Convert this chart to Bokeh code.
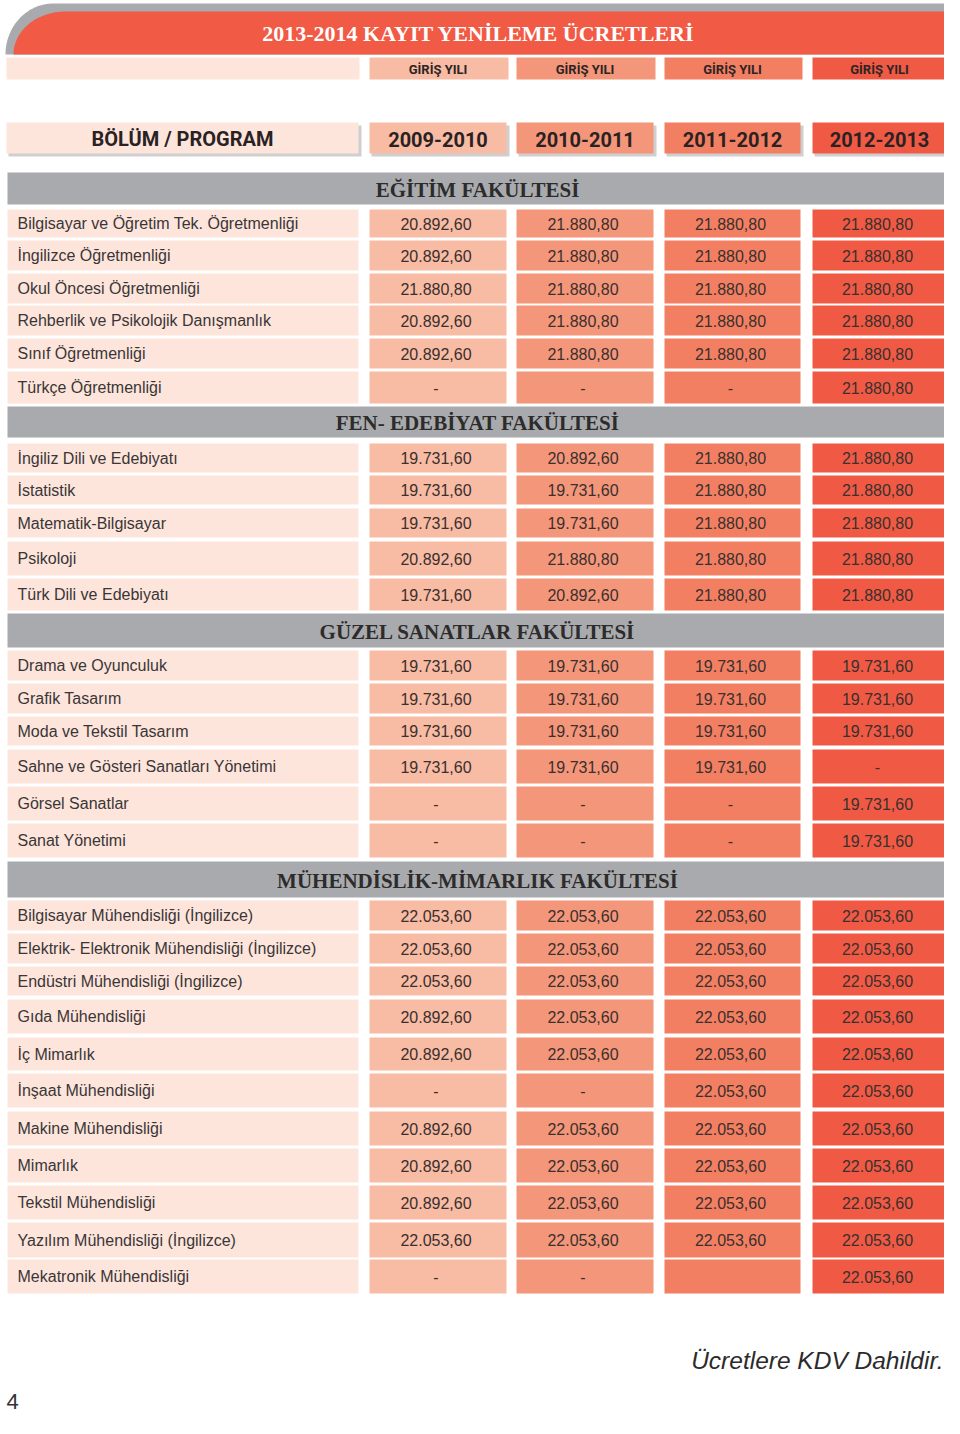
import numpy as np
from bokeh.plotting import figure
from bokeh.models import Range1d, ColumnDataSource
from bokeh.core.properties import value
from bokeh.embed import file_html
from bokeh.resources import INLINE

# ---------------- data ----------------
title_text = "2013-2014 KAYIT YENİLEME ÜCRETLERİ"
entry_label = "GİRİŞ YILI"
program_header = "BÖLÜM / PROGRAM"
years = ["2009-2010", "2010-2011", "2011-2012", "2012-2013"]
faculties = ["EĞİTİM FAKÜLTESİ", "FEN- EDEBİYAT FAKÜLTESİ",
             "GÜZEL SANATLAR FAKÜLTESİ", "MÜHENDİSLİK-MİMARLIK FAKÜLTESİ"]
programs = [
    "Bilgisayar ve Öğretim Tek. Öğretmenliği", "İngilizce Öğretmenliği",
    "Okul Öncesi Öğretmenliği", "Rehberlik ve Psikolojik Danışmanlık",
    "Sınıf Öğretmenliği", "Türkçe Öğretmenliği",
    "İngiliz Dili ve Edebiyatı", "İstatistik", "Matematik-Bilgisayar",
    "Psikoloji", "Türk Dili ve Edebiyatı",
    "Drama ve Oyunculuk", "Grafik Tasarım", "Moda ve Tekstil Tasarım",
    "Sahne ve Gösteri Sanatları Yönetimi", "Görsel Sanatlar", "Sanat Yönetimi",
    "Bilgisayar Mühendisliği (İngilizce)",
    "Elektrik- Elektronik Mühendisliği (İngilizce)",
    "Endüstri Mühendisliği (İngilizce)", "Gıda Mühendisliği", "İç Mimarlık",
    "İnşaat Mühendisliği", "Makine Mühendisliği", "Mimarlık",
    "Tekstil Mühendisliği", " Yazılım Mühendisliği (İngilizce)",
    "Mekatronik Mühendisliği",
]
fee_2009_2010 = [
    "20.892,60", "20.892,60", "21.880,80", "20.892,60", "20.892,60", "-",
    "19.731,60", "19.731,60", "19.731,60", "20.892,60", "19.731,60",
    "19.731,60", "19.731,60", "19.731,60", "19.731,60", "-", "-",
    "22.053,60", "22.053,60", "22.053,60", "20.892,60", "20.892,60", "-",
    "20.892,60", "20.892,60", "20.892,60", "22.053,60", "-",
]
fee_2010_2011 = [
    "21.880,80", "21.880,80", "21.880,80", "21.880,80", "21.880,80", "-",
    "20.892,60", "19.731,60", "19.731,60", "21.880,80", "20.892,60",
    "19.731,60", "19.731,60", "19.731,60", "19.731,60", "-", "-",
    "22.053,60", "22.053,60", "22.053,60", "22.053,60", "22.053,60", "-",
    "22.053,60", "22.053,60", "22.053,60", "22.053,60", "-",
]
fee_2011_2012 = [
    "21.880,80", "21.880,80", "21.880,80", "21.880,80", "21.880,80", "-",
    "21.880,80", "21.880,80", "21.880,80", "21.880,80", "21.880,80",
    "19.731,60", "19.731,60", "19.731,60", "19.731,60", "-", "-",
    "22.053,60", "22.053,60", "22.053,60", "22.053,60", "22.053,60", "22.053,60",
    "22.053,60", "22.053,60", "22.053,60", "22.053,60", "",
]
fee_2012_2013 = [
    "21.880,80", "21.880,80", "21.880,80", "21.880,80", "21.880,80", "21.880,80",
    "21.880,80", "21.880,80", "21.880,80", "21.880,80", "21.880,80",
    "19.731,60", "19.731,60", "19.731,60", "-", "19.731,60", "19.731,60",
    "22.053,60", "22.053,60", "22.053,60", "22.053,60", "22.053,60", "22.053,60",
    "22.053,60", "22.053,60", "22.053,60", "22.053,60", "22.053,60",
]
footnote = "Ücretlere KDV Dahildir."
page_number = "4"

# ---------------- layout & style ----------------
W, H = 944, 1418
col_left = [369, 516, 664, 812]
col_right = [506, 653, 800, 946]
lab_left, lab_right = 7, 358
header_tops = [172, 406, 613, 861]
header_bottoms = [204, 437, 647, 897]
row_tops = [209, 240, 273, 305, 338, 371,
            443, 475, 508, 541, 578,
            650, 683, 716, 749, 786, 823,
            900, 933, 966, 999, 1037, 1073, 1111, 1148, 1185, 1222, 1259]
row_bottoms = [237, 270, 303, 335, 368, 403,
               472, 504, 537, 575, 610,
               680, 713, 745, 783, 820, 857,
               930, 963, 995, 1033, 1070, 1107, 1145, 1182, 1219, 1257, 1293]
col_colors = ["#f8bba4", "#f4967a", "#f37f63", "#f05a45"]
pale = "#fde5dc"
gray = "#a8aaad"
red = "#f15a45"
txt = "#3a302e"
SANS = "Liberation Sans"
COND = "Roboto"
SERIF = "Liberation Serif"

p = figure(width=W, height=H, x_range=Range1d(0, W), y_range=Range1d(H, 0),
           x_axis_type=None, y_axis_type=None, toolbar_location=None,
           output_backend="svg", min_border=0, outline_line_color=None,
           background_fill_color="white", border_fill_color="white")
p.grid.visible = False

# title banner (gray back + red front with rounded top-left corner)
def rounded(x0, x1, y0, y1, rx, ry):
    t = np.linspace(np.pi, 1.5 * np.pi, 40)
    cx, cy = x0 + rx, y0 + ry
    ax = cx + rx * np.cos(t)
    ay = cy + ry * np.sin(t)
    xs = [x0] + list(ax) + [x1, x1]
    ys = [y1] + list(ay) + [y0, y1]
    return xs, ys

gx, gy = rounded(5, 946, 3, 54, 48, 51)
p.patch(gx, gy, fill_color=gray, line_color=None)
rxs, rys = rounded(13, 947, 11, 54, 52, 43)
p.patch(rxs, rys, fill_color=red, line_color=None)
p.text(x=[478], y=[33], text=[title_text], text_align="center", text_baseline="middle",
       text_font=value(SERIF), text_font_style="bold", text_font_size=value("22px"),
       text_color="white")

# GİRİŞ YILI row
p.quad(left=[6], right=[359], top=[57], bottom=[79], fill_color=pale, line_color=None)
p.quad(left=col_left, right=[r + 2 for r in col_right], top=[57] * 4, bottom=[79] * 4,
       fill_color=col_colors, line_color=None)
p.text(x=[(a + b) / 2 for a, b in zip(col_left, col_right)], y=[68.5] * 4,
       text=[entry_label] * 4, text_align="center", text_baseline="middle",
       text_font=value(COND), text_font_style="bold", text_font_size=value("13px"),
       text_color="#2e2424")

# BÖLÜM / PROGRAM + years row with shadow
hl = [6] + col_left
hr = [358] + col_right
p.quad(left=[a + 2 for a in hl], right=[b + 3 for b in hr], top=[125] * 5, bottom=[156] * 5,
       fill_color="#cfcfcf", line_color=None)
p.quad(left=hl, right=hr, top=[122] * 5, bottom=[153] * 5,
       fill_color=[pale] + col_colors, line_color=None)
p.text(x=[(a + b) / 2 for a, b in zip(hl, hr)], y=[138.5] * 5,
       text=[program_header] + years, text_align="center", text_baseline="middle",
       text_font=value(COND), text_font_style="bold",
       text_font_size=["20px", "20px", "20px", "20px", "20px"],
       text_color="#2a2222")

# faculty headers
p.quad(left=[7] * 4, right=[946] * 4, top=header_tops, bottom=header_bottoms,
       fill_color=gray, line_color=None)
p.text(x=[477] * 4, y=[(a + b) / 2 + 1 for a, b in zip(header_tops, header_bottoms)],
       text=faculties, text_align="center", text_baseline="middle",
       text_font=value(SERIF), text_font_style="bold", text_font_size=value("21px"),
       text_color="#2d2b2b")

# program rows
n = len(programs)
p.quad(left=[lab_left] * n, right=[lab_right] * n, top=row_tops, bottom=row_bottoms,
       fill_color=pale, line_color=None)
mid = [(a + b) / 2 for a, b in zip(row_tops, row_bottoms)]
p.text(x=[17] * n, y=mid, text=programs, text_align="left", text_baseline="middle",
       text_font=value(SANS), text_font_size=value("16px"), text_color="#3a3636")

fees = [fee_2009_2010, fee_2010_2011, fee_2011_2012, fee_2012_2013]
cl, cr, ct, cb, cc, tx, ty, tt = [], [], [], [], [], [], [], []
for j, col in enumerate(fees):
    for i, v in enumerate(col):
        cl.append(col_left[j]); cr.append(col_right[j])
        ct.append(row_tops[i]); cb.append(row_bottoms[i]); cc.append(col_colors[j])
        tx.append((col_left[j] + col_right[j]) / 2 - 2); ty.append(mid[i]); tt.append(v)
src = ColumnDataSource(dict(l=cl, r=cr, t=ct, b=cb, c=cc, x=tx, y=ty, s=tt))
p.quad(left="l", right="r", top="t", bottom="b", fill_color="c", line_color=None, source=src)
p.text(x="x", y="y", text="s", source=src, text_align="center", text_baseline="middle",
       text_font=value(SANS), text_font_size=value("16px"), text_color=txt)

# footnote and page number
p.text(x=[943], y=[1360], text=[footnote], text_align="right", text_baseline="middle",
       text_font=value(SANS), text_font_style="italic", text_font_size=value("24.5px"),
       text_color="#2b2b2b")
p.text(x=[6], y=[1401], text=[page_number], text_align="left", text_baseline="middle",
       text_font=value(SANS), text_font_size=value("22px"), text_color="#333333")

open("out.html", "w").write(file_html(p, INLINE))
